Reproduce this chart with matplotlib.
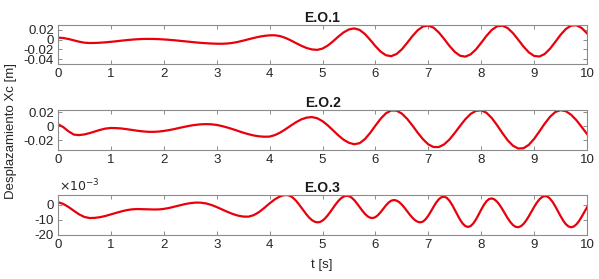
import numpy as np
import matplotlib
matplotlib.use("Agg")
import matplotlib.pyplot as plt

plt.rcParams['font.family'] = ['Liberation Sans', 'DejaVu Sans']

# time axis (s)
t = np.round(np.arange(0, 10.0001, 0.1), 2)
# finer time sampling for E.O.3 (0-4.2 s every 0.1 s, then every 0.05 s)
t3 = np.round(np.concatenate([np.arange(0, 4.2001, 0.1), np.arange(4.25, 10.0001, 0.05)]), 2)

# E.O.1 displacement [m]
eo1 = [0.004, 0.0033, 0.00125, -0.0015, -0.00425, -0.0063, -0.007, -0.0068, -0.0063, -0.0055,
       -0.0045, -0.0034, -0.0021, -0.001, 0.0, 0.0008, 0.0013, 0.0015, 0.0014, 0.001,
       0.0004, -0.0004, -0.0013, -0.0024, -0.0035, -0.0046, -0.0057, -0.0066, -0.0074, -0.008,
       -0.0084, -0.0085, -0.008, -0.0067, -0.0047, -0.0021, 0.0007, 0.0034, 0.0059, 0.0077,
       0.0088, 0.0089, 0.0072, 0.0035, -0.0015, -0.0072, -0.0126, -0.0172, -0.0201, -0.021,
       -0.0184, -0.0122, -0.0034, 0.0063, 0.0149, 0.0209, 0.023, 0.02, 0.0117, -0.0003,
       -0.0133, -0.0247, -0.0321, -0.0339, -0.0295, -0.0199, -0.0067, 0.0072, 0.0193, 0.027,
       0.0289, 0.0245, 0.0146, 0.0013, -0.0129, -0.0251, -0.033, -0.0349, -0.0303, -0.0202,
       -0.0066, 0.0077, 0.0199, 0.0274, 0.0287, 0.0237, 0.0134, -0.0002, -0.0143, -0.0261,
       -0.0334, -0.0347, -0.0295, -0.0188, -0.0048, 0.0098, 0.0218, 0.0288, 0.0295, 0.0238,
       0.0129]

# E.O.2 displacement [m]
eo2 = [0.0029, -0.0013, -0.0073, -0.0119, -0.0126, -0.0116, -0.0097, -0.0074, -0.0051, -0.0033,
       -0.0025, -0.0027, -0.0032, -0.0042, -0.0053, -0.0064, -0.0073, -0.0079, -0.008, -0.0076,
       -0.0067, -0.0055, -0.004, -0.0023, -0.0007, 0.0008, 0.0019, 0.0027, 0.003, 0.0027,
       0.0018, 0.0002, -0.0018, -0.0041, -0.0066, -0.0091, -0.0113, -0.0131, -0.0143, -0.0149,
       -0.0147, -0.0126, -0.009, -0.0043, 0.0008, 0.0057, 0.0097, 0.0122, 0.013, 0.0113,
       0.0072, 0.0012, -0.0059, -0.013, -0.0192, -0.0235, -0.0255, -0.0241, -0.0184, -0.0096,
       0.0008, 0.0107, 0.0184, 0.0224, 0.0221, 0.0179, 0.0105, 0.001, -0.0092, -0.0185,
       -0.0257, -0.0295, -0.0295, -0.0257, -0.0188, -0.0096, 0.0004, 0.0099, 0.0174, 0.0218,
       0.0226, 0.019, 0.0116, 0.0015, -0.0096, -0.0199, -0.0276, -0.0316, -0.0312, -0.0264,
       -0.018, -0.0074, 0.0036, 0.0133, 0.0201, 0.0228, 0.0213, 0.0163, 0.0085, -0.0011,
       -0.011]

# E.O.3 displacement [x 1e-3 m], sampled on t3
eo3 = [1.85, 0.67, -1.43, -3.97, -6.40, -8.17, -8.89, -8.75, -8.24, -7.44,
       -6.44, -5.37, -4.36, -3.53, -2.99, -2.8, -2.86, -2.98, -3.09, -3.06,
       -2.70, -2.06, -1.21, -0.29, 0.56, 1.20, 1.56, 1.53, 0.99, -0.04,
       -1.44, -3.03, -4.65, -6.10, -7.21, -7.87, -7.94, -6.93, -4.85, -2.02,
       1.03, 3.80, 5.79,
       6.38, 6.67, 6.58, 5.88, 4.56, 2.77, 0.59, -1.81, -4.27, -6.59,
       -8.65, -10.26, -11.33, -11.79, -11.57, -10.63, -9.07, -6.99, -4.59, -2.04,
       0.47, 2.69, 4.48, 5.68, 6.18, 5.94, 4.92, 3.25, 1.07, -1.35,
       -3.77, -5.95, -7.62, -8.64, -8.88, -8.27, -6.86, -4.87, -2.57, -0.31,
       1.59, 2.85, 3.3, 2.93, 1.86, 0.19, -1.92, -4.25, -6.58, -8.69,
       -10.36, -11.43, -11.8, -11.25, -9.68, -7.27, -4.34, -1.25, 1.61, 3.87,
       5.24, 5.58, 4.75, 2.84, 0.07, -3.26, -6.73, -9.98, -12.60, -14.31,
       -14.9, -14.29, -12.55, -9.87, -6.62, -3.19, -0.03, 2.48, 4.00, 4.38,
       3.72, 2.17, -0.12, -2.92, -5.96, -8.94, -11.56, -13.58, -14.80, -15.08,
       -14.41, -12.85, -10.54, -7.68, -4.55, -1.42, 1.44, 3.75, 5.31, 5.98,
       5.65, 4.29, 2.02, -0.91, -4.22, -7.55, -10.58, -13.01, -14.56, -15.1,
       -14.60, -13.13, -10.86, -7.98, -4.8, -1.62]

titles = ['E.O.1', 'E.O.2', 'E.O.3']
series = [(t, eo1), (t, eo2), (t3, eo3)]
ylims = [(-0.05, 0.03), (-0.033, 0.023), (-20, 6.7)]
yticks = [[-0.04, -0.02, 0, 0.02], [-0.02, 0, 0.02], [-20, -10, 0]]
ytlabels = [['-0.04', '-0.02', '0', '0.02'], ['-0.02', '0', '0.02'], ['-20', '-10', '0']]
xticks = list(range(0, 11))

W, H = 599, 279
fig = plt.figure(figsize=(W / 100, H / 100), dpi=100)

boxes = [(25, 64), (110, 149.5), (195, 234.5)]
left_px, right_px = 58, 587
gray = '#8c8c8c'
for i, (ytop, ybot) in enumerate(boxes):
    ax = fig.add_axes([left_px / W, 1 - ybot / H, (right_px - left_px) / W, (ybot - ytop) / H])
    tx, yy = series[i]
    n = min(len(tx), len(yy))
    ax.plot(tx[:n], yy[:n], color='#e8000b', lw=1.6)
    ax.set_xlim(0, 10)
    ax.set_ylim(*ylims[i])
    ax.set_xticks(xticks)
    ax.set_xticklabels([str(x) for x in xticks])
    ax.set_yticks(yticks[i])
    ax.set_yticklabels(ytlabels[i])
    ax.tick_params(direction='in', length=3, width=0.7, color=gray, top=True, right=True,
                   labelsize=9.5, labelcolor='#262626', pad=3)
    for s in ax.spines.values():
        s.set_color(gray)
        s.set_linewidth(0.8)
    ax.set_title(titles[i], fontsize=10, fontweight='bold', pad=2.5, color='#1a1a1a')

fig.text(59 / W, 1 - 194 / H, r'$\times10^{-3}$', fontsize=9, color='#262626', va='bottom', ha='left')
fig.text(0.018, 0.53, 'Desplazamiento Xc [m]', rotation=90, fontsize=9.5, color='#262626',
         va='center', ha='center')
fig.text(322 / W, 1 - 265 / H, 't [s]', fontsize=9.5, color='#262626', va='center', ha='center')

fig.savefig('out.png', dpi=100)
